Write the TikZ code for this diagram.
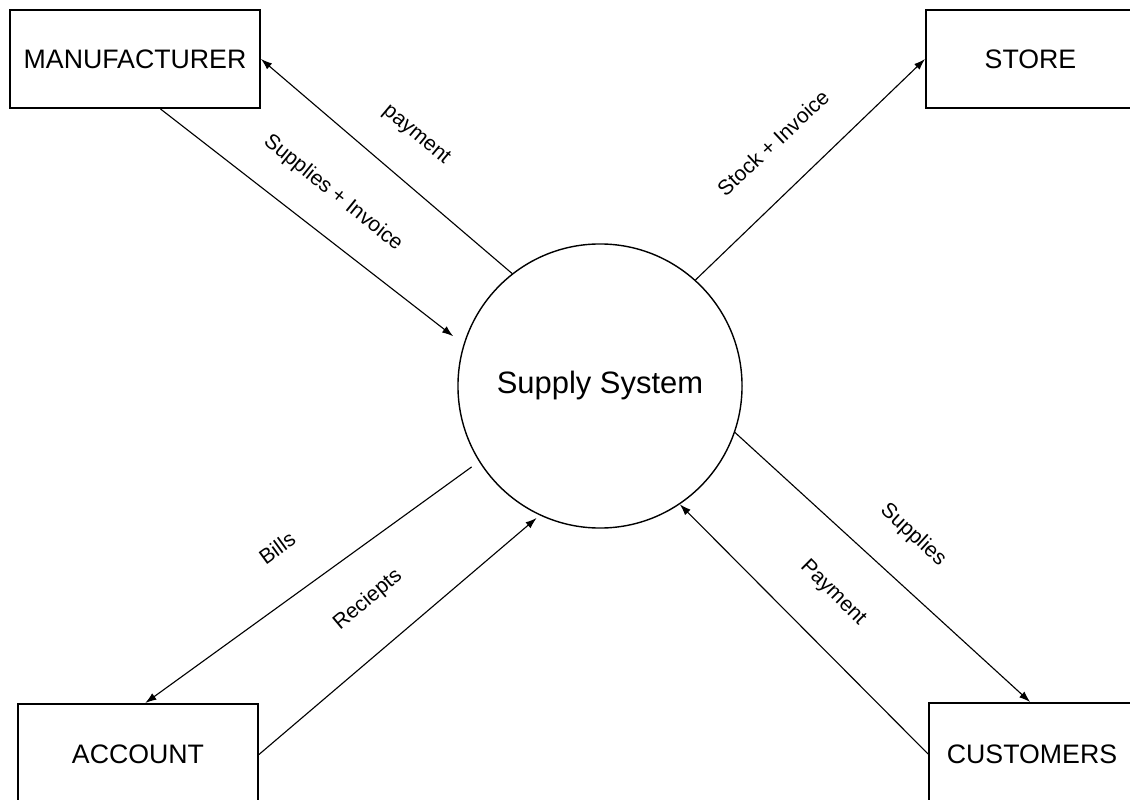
\documentclass[tikz,border=0pt]{standalone}
\usepackage{fontspec}
\setmainfont{Liberation Sans}
\usetikzlibrary{arrows.meta}
\begin{document}
\begin{tikzpicture}[x=0.025cm,y=-0.025cm,
  entity/.style={draw, line width=1.3pt, rectangle, inner sep=0pt,
    font=\fontsize{19}{23}\selectfont},
  process/.style={draw, line width=1pt, circle, inner sep=0pt,
    minimum size=7.1cm, font=\fontsize{22}{26}\selectfont},
  flow/.style={line width=0.8pt, -{Latex[length=8pt,width=5.5pt]}},
  flowlabel/.style={inner sep=0pt, font=\fontsize{15}{18}\selectfont}]
\useasboundingbox (0,0) rectangle (1130,800);

% entities
\node[entity, minimum width=6.25cm, minimum height=2.45cm] (man) at (135,59) {MANUFACTURER};
\node[entity, minimum width=5.225cm, minimum height=2.45cm] (store) at (1030.5,59) {STORE};
\node[entity, minimum width=6.0cm, minimum height=2.525cm] (acc) at (138,754.5) {ACCOUNT};
\node[entity, minimum width=5.15cm, minimum height=2.55cm] (cust) at (1032,754) {CUSTOMERS};

% process
\node[process] (sys) at (600,386) {Supply System};

% flows
\draw[flow] (sys.128) -- (man.east);
\draw[flow, shorten >=13*0.025cm] (man.-63) -- (sys.163);
\draw[flow] (sys.48) -- (store.west);
\draw[flow, shorten <=9*0.025cm] (sys.212) -- (acc.82);
\draw[flow, shorten >=4*0.025cm] (acc.east) -- (sys.245);
\draw[flow] (sys.-19) -- (cust.92);
\draw[flow] (cust.west) -- (sys.-56);

% labels
\node[flowlabel, rotate=-40] (lpay) at (416,135) {payment};
\node[flowlabel, rotate=-39] (lsup) at (333,193) {Supplies + Invoice};
\node[flowlabel, rotate=43] (lstock) at (773,143) {Stock + Invoice};
\node[flowlabel, rotate=36] (lbills) at (277,548) {Bills};
\node[flowlabel, rotate=40] (lrec) at (368,600) {Reciepts};
\node[flowlabel, rotate=-42.5] (lsup2) at (913,535) {Supplies};
\node[flowlabel, rotate=-45] (lpay2) at (833,593) {Payment};
\end{tikzpicture}
\end{document}
